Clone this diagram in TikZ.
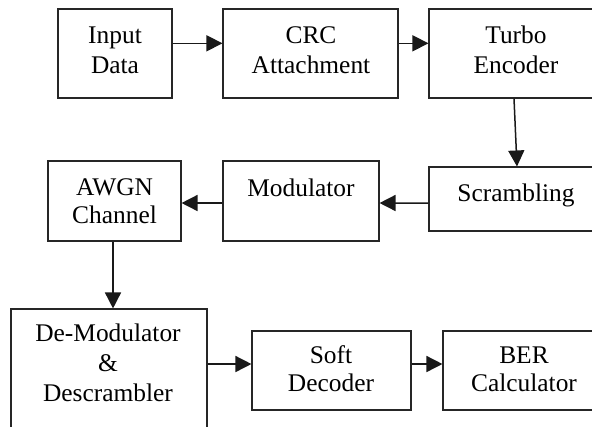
\documentclass[tikz,border=0pt]{standalone}
\usepackage{fontspec}
\setmainfont{Liberation Serif}
\usetikzlibrary{arrows.meta}
\begin{document}
\begin{tikzpicture}[x=1bp,y=-1bp,
  box/.style={draw=black!85, line width=1.1bp, inner sep=0pt, rectangle},
  txt/.style={inner sep=0pt, anchor=north, align=center, font=\fontsize{25.5}{30}\selectfont},
  arr/.style={draw=black!90, line width=1.5bp, -{Triangle[length=16bp,width=16bp]}}]
\useasboundingbox (0,0) rectangle (592,426);
\clip (0,0) rectangle (592,426);
% boxes
\node[box, minimum width=114bp, minimum height=89bp] (in) at (115,53.5) {};
\node[box, minimum width=175bp, minimum height=89bp] (crc) at (310.5,53.5) {};
\node[box, minimum width=174bp, minimum height=89bp] (turbo) at (516,53.5) {};
\node[box, minimum width=174bp, minimum height=64bp] (scr) at (516,199) {};
\node[box, minimum width=156bp, minimum height=80bp] (mod) at (301,201) {};
\node[box, minimum width=133bp, minimum height=80bp] (awgn) at (114.5,201) {};
\node[box, minimum width=196bp, minimum height=141bp] (demod) at (109,379.5) {};
\node[box, minimum width=159bp, minimum height=79bp] (soft) at (331.5,370.5) {};
\node[box, minimum width=162bp, minimum height=79bp] (ber) at (524,370.5) {};
% texts
\node[txt] (in-t) at (115,22.3) {\strut Input\\Data};
\node[txt] (crc-t) at (311,22.3) {\strut CRC\\Attachment};
\node[txt] (turbo-t) at (516,22) {\strut Turbo\\Encoder};
\node[txt] (scr-t) at (516,180.7) {\strut Scrambling};
\node[txt] (mod-t) at (301,175.7) {\strut Modulator};
\node[txt] (awgn-t) at (114.5,174) {\strut AWGN\\[-2bp]Channel};
\node[txt] (demod-t) at (108,320.7) {\strut De-Modulator\\\&\\Descrambler};
\node[txt] (soft-t) at (331,342.3) {\strut Soft\\[-2bp]Decoder};
\node[txt] (ber-t) at (524,342) {\strut BER\\[-2bp]Calculator};
% connectors
\draw[arr] ([yshift=10.2bp]in.east) -- ([yshift=10.2bp]crc.west);
\draw[arr] ([yshift=10.2bp]crc.east) -- ([yshift=10.2bp]turbo.west);
\draw[arr] ([xshift=-2bp]turbo.south) -- ([xshift=1bp]scr.north);
\draw[arr] ([yshift=-4bp]scr.west) -- ([yshift=-2bp]mod.east);
\draw[arr] ([yshift=-2bp]mod.west) -- ([yshift=-2bp]awgn.east);
\coordinate (a1) at ([xshift=-1.5bp]awgn.south);
\draw[arr] (a1) -- (a1 |- demod.north);
\coordinate (s1) at ([yshift=6.5bp]soft.west);
\draw[arr] (demod.east |- s1) -- (s1);
\draw[arr] ([yshift=6.5bp]soft.east) -- ([yshift=6.5bp]ber.west);
\end{tikzpicture}
\end{document}
